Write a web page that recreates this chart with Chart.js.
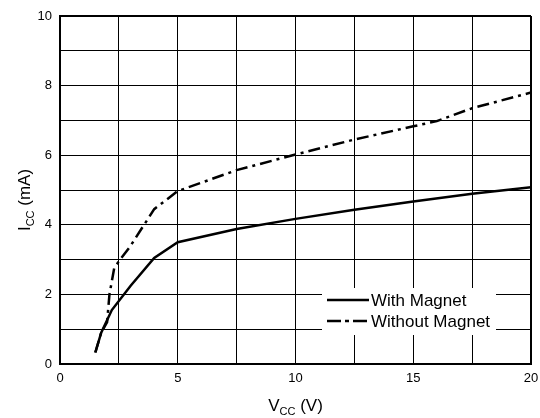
<!DOCTYPE html>
<html>
<head>
<meta charset="utf-8">
<script src="https://cdn.jsdelivr.net/npm/chart.js@4/dist/chart.umd.min.js"></script>
<style>
  html, body { margin: 0; padding: 0; background: #fff; }
  canvas { display: block; }
</style>
</head>
<body>
<canvas id="chartIcc" width="540" height="418"></canvas>
<script>
'use strict';

// ─── Data ─────────────────────────────────────────────────────────────────────

const SERIES_NAMES = ['With Magnet', 'Without Magnet'];

const magnetVcc = [1.5, 1.75, 2.2, 3, 4, 5, 7.5, 10, 12.5, 15, 17.5, 20];
const magnetIcc = [0.33, 0.9, 1.55, 2.25, 3.05, 3.5, 3.88, 4.17, 4.43, 4.67, 4.89, 5.08];

const noMagnetVcc = [1.5, 1.75, 2.0, 2.1, 2.3, 2.55, 2.95, 4, 5, 7.5, 10, 12.5, 15, 16, 17.5, 20];
const noMagnetIcc = [0.33, 0.9, 1.2, 2.0, 2.75, 3.0, 3.35, 4.45, 4.97, 5.57, 6.02, 6.45, 6.83, 6.98, 7.35, 7.8];

const X_LABEL_TICKS = [0, 5, 10, 15, 20];
const Y_LABEL_TICKS = [0, 2, 4, 6, 8, 10];

// ─── Styling ──────────────────────────────────────────────────────────────────

const FONT     = "'Liberation Sans', Arial, Helvetica, sans-serif";
const INK      = '#000';
const DASH_DOT = [12, 5, 3, 5];

const toPoints = (xs, ys) => xs.map((x, i) => ({ x, y: ys[i] }));

// Axis titles with subscripts + the in-plot legend box
const annotations = {
  id: 'annotations',
  afterDraw(chart) {
    const { ctx, chartArea } = chart;
    ctx.save();
    ctx.fillStyle = INK;
    ctx.textBaseline = 'alphabetic';

    // helper: main / subscript / rest, centred at 0 on baseline 0
    const drawSubTitle = (main, sub, rest, subDrop) => {
      ctx.font = `17px ${FONT}`;
      const wMain = ctx.measureText(main).width;
      const wRest = ctx.measureText(rest).width;
      ctx.font = `11px ${FONT}`;
      const wSub = ctx.measureText(sub).width;
      let x = -(wMain + wSub + wRest) / 2;
      ctx.textAlign = 'left';
      ctx.font = `17px ${FONT}`;
      ctx.fillText(main, x, 0);
      x += wMain;
      ctx.font = `11px ${FONT}`;
      ctx.fillText(sub, x, subDrop);
      x += wSub;
      ctx.font = `17px ${FONT}`;
      ctx.fillText(rest, x, 0);
    };

    // x title
    ctx.save();
    ctx.translate((chartArea.left + chartArea.right) / 2, 411);
    drawSubTitle('V', 'CC', ' (V)', 4);
    ctx.restore();

    // y title
    ctx.save();
    ctx.translate(30, 200);
    ctx.rotate(-Math.PI / 2);
    drawSubTitle('I', 'CC', ' (mA)', 4);
    ctx.restore();

    // legend
    ctx.fillStyle = '#fff';
    ctx.fillRect(322, 288, 174, 47);
    const rows = [
      { y: 300, dash: [] },
      { y: 321, dash: [14, 4, 4, 4] },
    ];
    rows.forEach((r, i) => {
      ctx.beginPath();
      ctx.setLineDash(r.dash);
      ctx.lineWidth = 2.5;
      ctx.strokeStyle = INK;
      ctx.moveTo(327, r.y);
      ctx.lineTo(369, r.y);
      ctx.stroke();
      ctx.setLineDash([]);
      ctx.fillStyle = INK;
      ctx.font = `17px ${FONT}`;
      ctx.textAlign = 'left';
      ctx.textBaseline = 'middle';
      ctx.fillText(SERIES_NAMES[i], 371, r.y + 1);
    });

    ctx.restore();
  },
};

new Chart(document.getElementById('chartIcc').getContext('2d'), {
  type: 'line',
  data: {
    datasets: [
      {
        label: SERIES_NAMES[0],
        data: toPoints(magnetVcc, magnetIcc),
        borderColor: INK,
        borderWidth: 2.5,
        pointRadius: 0,
        tension: 0,
        fill: false,
      },
      {
        label: SERIES_NAMES[1],
        data: toPoints(noMagnetVcc, noMagnetIcc),
        borderColor: INK,
        borderWidth: 2.5,
        borderDash: DASH_DOT,
        pointRadius: 0,
        tension: 0,
        fill: false,
      },
    ],
  },
  options: {
    responsive: false,
    animation: false,
    layout: { padding: { top: 16, right: 9, left: 0, bottom: 0 } },
    plugins: {
      legend: { display: false },
      tooltip: { enabled: false },
    },
    scales: {
      x: {
        type: 'linear',
        min: 0,
        max: 20,
        afterFit: s => { s.height = 54; s.paddingLeft = 0; s.paddingRight = 0; },
        border: { display: true, color: INK, width: 2 },
        grid: {
          color: INK,
          drawTicks: false,
          lineWidth: c => (c.tick && c.tick.value === 20 ? 2 : 1),
        },
        ticks: {
          stepSize: 2.5,
          autoSkip: false,
          maxRotation: 0,
          padding: 7,
          color: INK,
          font: { family: FONT, size: 13 },
          callback: v => (X_LABEL_TICKS.includes(v) ? v : ''),
        },
      },
      y: {
        type: 'linear',
        min: 0,
        max: 10,
        afterFit: s => { s.width = 60; s.paddingTop = 0; s.paddingBottom = 0; },
        border: { display: true, color: INK, width: 2 },
        grid: {
          color: INK,
          drawTicks: false,
          lineWidth: c => (c.tick && c.tick.value === 10 ? 2 : 1),
        },
        ticks: {
          stepSize: 1,
          autoSkip: false,
          padding: 8,
          color: INK,
          font: { family: FONT, size: 13 },
          callback: v => (Y_LABEL_TICKS.includes(v) ? v : ''),
        },
      },
    },
  },
  plugins: [annotations],
});
</script>
</body>
</html>
